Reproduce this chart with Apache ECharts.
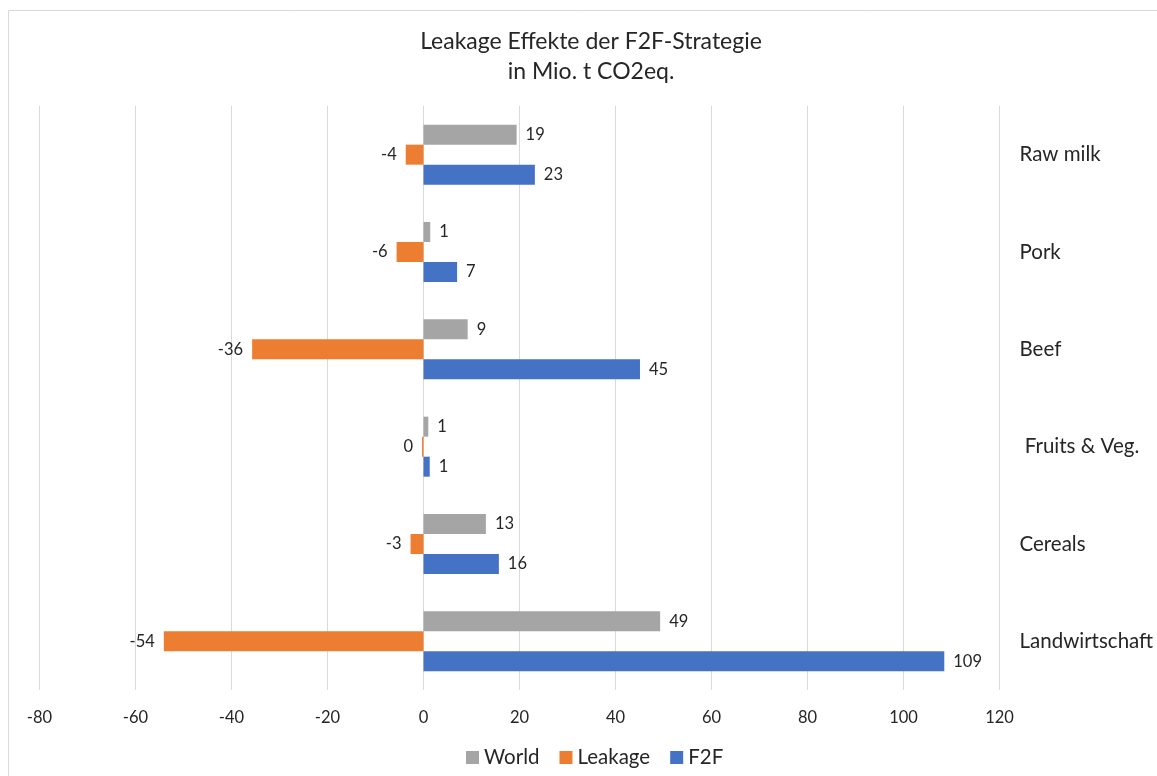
<!DOCTYPE html>
<html>
<head>
<meta charset="utf-8">
<title>Leakage Effekte der F2F-Strategie</title>
<style>
    html, body { margin: 0; padding: 0; background: #fff; }
    #chartsmain { width: 1157px; height: 776px; }
</style>
</head>
<body>
<div id="chartsmain"></div>
<script src="https://cdn.jsdelivr.net/npm/echarts@6/dist/echarts.min.js"></script>
<script>
    // kategorien von oben nach unten
    var categories = ['Raw milk', 'Pork', 'Beef', ' Fruits & Veg.', 'Cereals', 'Landwirtschaft'];
    var seriesNames = ['World', 'Leakage', 'F2F'];
    var worldData = [19.4, 1.4, 9.2, 1.0, 13.0, 49.3];
    var leakageData = [-3.7, -5.6, -35.7, -0.3, -2.7, -54.1];
    var f2fData = [23.2, 7.0, 45.1, 1.3, 15.7, 108.5];
    var xTicks = [-80, -60, -40, -20, 0, 20, 40, 60, 80, 100, 120];

    var colors = ['#A5A5A5', '#ED7D31', '#4472C4'];
    var textColor = '#262626';
    var fontName = 'Lato, "Open Sans", sans-serif';

    function makeData(arr) {
        return arr.map(function (v) {
            return {
                value: v,
                label: { position: v < 0 ? 'left' : 'right' }
            };
        });
    }

    var chart = echarts.init(document.getElementById('chartsmain'));

    var option = {
        animation: false,
        backgroundColor: '#ffffff',
        title: {
            text: 'Leakage Effekte der F2F-Strategie\nin Mio. t CO2eq.',
            left: 586,
            top: 22,
            textAlign: 'center',
            textStyle: {
                color: textColor,
                fontFamily: fontName,
                fontWeight: 'normal',
                fontSize: 23,
                lineHeight: 30
            }
        },
        legend: {
            data: seriesNames,
            left: 461,
            top: 742,
            itemWidth: 13,
            itemHeight: 13,
            itemGap: 20,
            icon: 'rect',
            textStyle: { color: textColor, fontFamily: fontName, fontSize: 20.5 }
        },
        grid: {
            left: 39.5,
            right: 157.5,
            top: 106,
            bottom: 86,
            containLabel: false
        },
        xAxis: {
            type: 'value',
            min: xTicks[0],
            max: xTicks[xTicks.length - 1],
            interval: 20,
            axisLine: { show: false },
            axisTick: { show: false },
            splitLine: { lineStyle: { color: '#D9D9D9', width: 1 } },
            axisLabel: {
                color: textColor,
                fontFamily: fontName,
                fontSize: 16.5,
                margin: 19
            }
        },
        yAxis: {
            type: 'category',
            data: categories,
            inverse: true,
            position: 'right',
            axisLine: { show: false },
            axisTick: { show: false },
            axisLabel: {
                color: textColor,
                fontFamily: fontName,
                fontSize: 20.5,
                align: 'left',
                margin: 20
            }
        },
        graphic: [{
            type: 'rect',
            shape: { x: 8.5, y: 10.5, width: 1200, height: 800 },
            style: { fill: 'none', stroke: '#D9D9D9', lineWidth: 1 },
            silent: true
        }],
        series: [worldData, leakageData, f2fData].map(function (arr, i) {
            return {
                name: seriesNames[i],
                type: 'bar',
                barWidth: 20,
                barGap: '0%',
                itemStyle: { color: colors[i] },
                label: {
                    show: true,
                    distance: 9,
                    color: textColor,
                    fontFamily: fontName,
                    fontSize: 16.5,
                    formatter: function (p) { return String(Math.round(p.value)); }
                },
                data: makeData(arr)
            };
        })
    };
    chart.setOption(option);
</script>
</body>
</html>
